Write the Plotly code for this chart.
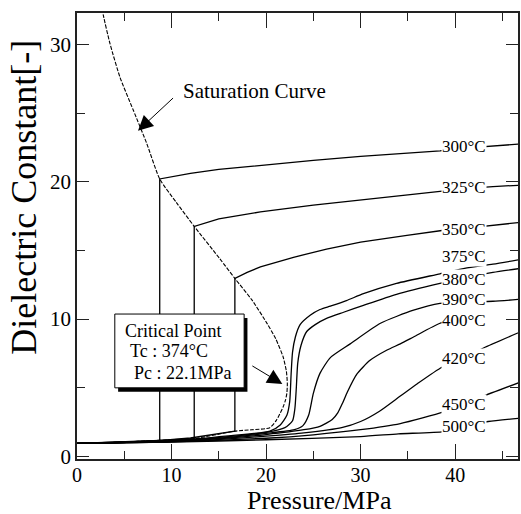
import plotly.graph_objects as go

FONT = "Liberation Serif"

# ---------------- data (pressure / MPa, dielectric constant) ----------------
sat_P = [2.55, 2.79, 3.49, 4.55, 5.96, 7.37, 8.75, 10.5, 12.4, 15.1, 16.7, 18.5, 20.1,
         21.0, 21.8, 22.15, 22.25, 22.2, 22.05, 21.8, 21.1, 20.4, 18.5, 16.7, 12.4, 8.75, 4.0, 0.0]
sat_eps = [33.0, 32.1, 30.05, 27.6, 25.2, 22.8, 20.2, 18.5, 16.75, 14.4, 12.96, 11.4, 9.69,
           8.6, 7.26, 6.2, 5.3, 4.6, 4.1, 3.6, 2.65, 2.1, 1.95, 1.85, 1.3, 1.18, 1.03, 0.95]

p300 = [0, 4, 8.75, 8.75, 12, 15, 19.4, 25, 30, 35, 38.4, 41, 44, 47]
e300 = [0.95, 1.05, 1.18, 20.2, 20.6, 20.9, 21.2, 21.55, 21.85, 22.1, 22.25, 22.45, 22.6, 22.75]

p325 = [0, 6, 12.4, 12.4, 15, 19.4, 25, 30, 35, 38.4, 41, 44, 47]
e325 = [0.95, 1.08, 1.3, 16.75, 17.3, 17.8, 18.3, 18.7, 19.05, 19.3, 19.5, 19.65, 19.75]

p350 = [0, 8, 12, 16.7, 16.7, 18, 19.4, 22.9, 26.4, 30, 34.9, 38.6, 41, 44, 47]
e350 = [0.95, 1.12, 1.35, 1.85, 12.96, 13.4, 13.8, 14.5, 15.1, 15.6, 16.1, 16.45, 16.6, 16.85, 17.05]

p375 = [0, 10, 16, 20.4, 21.5, 22.2, 22.5, 22.65, 22.8, 23.1, 23.6, 24.7, 25.7, 26.8, 28.5, 30.3, 33.8, 38.4, 41, 44, 47]
e375 = [0.95, 1.15, 1.5, 1.85, 2.3, 3.0, 4.0, 6.0, 7.6, 8.7, 9.6, 10.3, 10.7, 10.95, 11.35, 11.85, 12.6, 13.3, 13.7, 14.0, 14.35]

p380 = [0, 10, 16, 20, 22, 22.8, 23.05, 23.2, 23.35, 23.7, 24.3, 25.2, 26.4, 28.2, 30.3, 33.8, 38.4, 41, 44, 47]
e380 = [0.95, 1.13, 1.45, 1.75, 2.1, 2.6, 3.5, 5.0, 6.8, 8.1, 9.1, 9.6, 10.05, 10.5, 11.0, 11.8, 12.6, 13.0, 13.4, 13.7]

p390 = [0, 10, 16, 20, 23, 23.9, 24.5, 25.0, 25.7, 26.8, 28.9, 32.1, 35.6, 38.4, 41, 44, 47]
e390 = [0.95, 1.12, 1.4, 1.68, 1.95, 2.25, 3.0, 4.6, 6.05, 7.2, 8.2, 9.7, 10.65, 11.15, 11.25, 11.3, 11.45]

p400 = [0, 10, 16, 20, 24, 25.7, 27.0, 27.6, 28.1, 28.6, 29.6, 31.0, 32.8, 34.2, 35.6, 38.4, 41]
e400 = [0.95, 1.1, 1.35, 1.6, 1.95, 2.2, 2.7, 3.2, 3.9, 4.7, 6.0, 7.0, 7.75, 8.2, 8.7, 9.7, 10.1]

p420 = [0, 10, 16, 20, 24, 28, 30, 32, 34.2, 36, 38.6, 41, 43, 47]
e420 = [0.95, 1.08, 1.28, 1.48, 1.72, 2.1, 2.55, 3.3, 4.4, 5.3, 6.5, 7.2, 7.9, 9.1]

p450 = [0, 10, 20, 25, 30, 34.2, 38.8, 41, 42.8, 47]
e450 = [0.95, 1.06, 1.33, 1.58, 1.95, 2.4, 3.25, 3.8, 4.35, 5.44]

p500 = [0, 10, 20, 30, 34, 38.8, 41, 43.5, 47]
e500 = [0.95, 1.05, 1.22, 1.45, 1.65, 1.82, 2.2, 2.55, 2.8]

labels = ["300°C", "325°C", "350°C", "375°C", "380°C", "390°C", "400°C", "420°C", "450°C", "500°C"]
label_eps = [22.53, 19.56, 16.54, 14.54, 12.85, 11.46, 9.9, 7.17, 3.82, 2.22]
label_P = 40.9

isotherms = [
    (p300, e300, "linear"), (p325, e325, "linear"), (p350, e350, "linear"),
    (p375, e375, "spline"), (p380, e380, "spline"), (p390, e390, "spline"),
    (p400, e400, "spline"), (p420, e420, "spline"), (p450, e450, "spline"),
    (p500, e500, "spline"),
]

# ---------------- figure ----------------
fig = go.Figure()

for P, E, shape in isotherms:
    fig.add_trace(go.Scatter(x=P, y=E, mode="lines",
                             line=dict(color="black", width=1.3, shape=shape, smoothing=0.6),
                             showlegend=False, hoverinfo="skip"))

fig.add_trace(go.Scatter(x=sat_P, y=sat_eps, mode="lines",
                         line=dict(color="black", width=1.1, dash="4px,1.5px",
                                   shape="spline", smoothing=0.6),
                         showlegend=False, hoverinfo="skip"))

# critical point box (shadow + box)
bx0, bx1, by0, by1 = 4.0, 17.68, 5.0, 10.37
fig.add_shape(type="rect", x0=bx0 + 0.35, x1=bx1 + 0.35, y0=by0 - 0.28, y1=by1 - 0.28,
              xref="x", yref="y", fillcolor="black", line=dict(width=0), layer="above")
fig.add_shape(type="rect", x0=bx0, x1=bx1, y0=by0, y1=by1,
              xref="x", yref="y", fillcolor="white", line=dict(color="black", width=1), layer="above")

annos = []
for txt, ey in zip(labels, label_eps):
    annos.append(dict(x=label_P, y=ey, xref="x", yref="y", text=txt, showarrow=False,
                      font=dict(family=FONT, size=17, color="black"),
                      bgcolor="white", borderpad=0, xanchor="center", yanchor="middle"))

box_lines = [("Critical Point", 4.87, 9.16), ("Tc : 374°C", 5.4, 7.68), ("Pc : 22.1MPa", 5.86, 6.06)]
for txt, bxp, bep in box_lines:
    annos.append(dict(x=bxp, y=bep, xref="x", yref="y", text=txt, showarrow=False,
                      font=dict(family=FONT, size=18, color="black"),
                      xanchor="left", yanchor="middle"))

annos.append(dict(x=11.02, y=26.62, xref="x", yref="y", text="Saturation Curve", showarrow=False,
                  font=dict(family=FONT, size=21, color="black"), xanchor="left", yanchor="middle"))

# arrows
annos.append(dict(x=6.45, y=23.71, ax=10.32, ay=26.19, xref="x", yref="y", axref="x", ayref="y",
                  text="", showarrow=True, arrowhead=2, arrowsize=3, arrowwidth=1, arrowcolor="black"))
annos.append(dict(x=21.72, y=5.28, ax=18.39, ay=6.66, xref="x", yref="y", axref="x", ayref="y",
                  text="", showarrow=True, arrowhead=2, arrowsize=3, arrowwidth=1, arrowcolor="black"))

# axis titles
annos.append(dict(x=25.7, y=-0.1275, xref="x", yref="paper", text="Pressure/MPa", showarrow=False,
                  font=dict(family=FONT, size=26, color="black"), xanchor="center", yanchor="bottom",
                  borderpad=0))
annos.append(dict(x=-0.12, y=18.84, xref="paper", yref="y", text="Dielectric Constant[-]", showarrow=False,
                  textangle=-90, font=dict(family=FONT, size=36, color="black"),
                  xanchor="center", yanchor="middle"))

axis_common = dict(showgrid=False, zeroline=False, showline=True, linecolor="#222", linewidth=1.5,
                   mirror="allticks", ticks="inside", tickcolor="#222", tickwidth=1.2)

fig.update_xaxes(range=[0, 46.65], dtick=10, tick0=0, ticklen=15, ticklabelstandoff=-3,
                 tickfont=dict(family=FONT, size=20, color="black"),
                 minor=dict(dtick=5, ticklen=8, ticks="inside", tickcolor="#222", tickwidth=1.2),
                 **axis_common)
fig.update_yaxes(range=[-0.18, 32.28], dtick=10, tick0=0, ticklen=12,
                 tickfont=dict(family=FONT, size=21, color="black"),
                 minor=dict(dtick=5, ticklen=8, ticks="inside", tickcolor="#222", tickwidth=1.2),
                 **axis_common)

fig.update_layout(width=521, height=514, autosize=False,
                  margin=dict(l=77, r=1, t=13, b=55),
                  paper_bgcolor="white", plot_bgcolor="white",
                  annotations=annos, showlegend=False)

fig.write_html("out.html")
